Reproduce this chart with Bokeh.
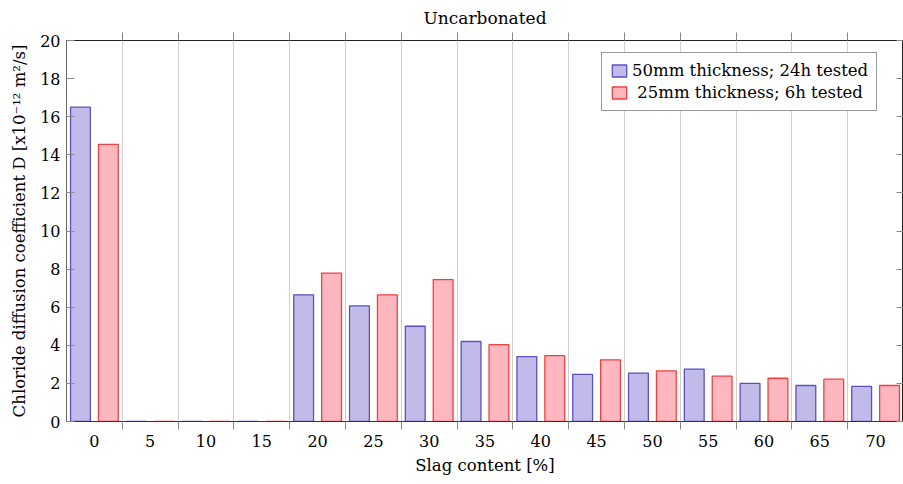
import numpy as np
from bokeh.plotting import figure
from bokeh.models import FixedTicker, LinearAxis, Range1d, Legend, LegendItem
from bokeh.embed import file_html
from bokeh.resources import INLINE

# ---- data ----
slag_content = ["0", "5", "10", "15", "20", "25", "30", "35", "40", "45", "50", "55", "60", "65", "70"]
d_50mm_24h = [16.5, 0.0, 0.0, 0.0, 6.65, 6.07, 5.0, 4.2, 3.41, 2.47, 2.54, 2.75, 2.0, 1.89, 1.84]
d_25mm_6h = [14.55, 0.0, 0.0, 0.0, 7.79, 6.65, 7.45, 4.04, 3.46, 3.24, 2.66, 2.38, 2.27, 2.22, 1.89]
y_ticks = [0, 2, 4, 6, 8, 10, 12, 14, 16, 18, 20]
label_50 = "50mm thickness; 24h tested"
label_25 = " 25mm thickness; 6h tested"

FONT = "DejaVu Serif"
idx = np.arange(len(slag_content))
centers = list(idx.astype(float))
bounds = list(idx[:-1] + 0.5)

p = figure(width=903, height=484, output_backend="svg", toolbar_location=None,
           x_range=Range1d(-0.5, len(slag_content) - 0.5), y_range=Range1d(0, 20),
           min_border_left=66, min_border_right=0, min_border_top=40, min_border_bottom=63,
           title="Uncarbonated")

p.title.align = "center"
p.title.text_font = FONT
p.title.text_font_size = "17px"
p.title.text_font_style = "normal"
p.title.text_color = "black"

blue_fill = "#c2bbea"
blue_line = "#5852c2"
red_fill = "#ffb7bf"
red_line = "#ee4242"

r1 = p.vbar(x=idx - 0.25, top=d_50mm_24h, width=0.355, fill_color=blue_fill, line_color=blue_line, line_width=1.3)
r2 = p.vbar(x=idx + 0.25, top=d_25mm_6h, width=0.355, fill_color=red_fill, line_color=red_line, line_width=1.3)

xticker = FixedTicker(ticks=centers, minor_ticks=bounds)
ax = p.xaxis[0]
ax.ticker = xticker
ax.major_label_overrides = {float(i): s for i, s in enumerate(slag_content)}
ax.major_tick_line_color = None
ax.minor_tick_line_color = "#888888"
ax.minor_tick_in = 0
ax.minor_tick_out = 8
ax.axis_line_color = "#333333"
ax.axis_label = "Slag content [%]"
ax.axis_label_text_font = FONT
ax.axis_label_text_font_size = "16.5px"
ax.axis_label_text_font_style = "normal"
ax.axis_label_text_color = "black"
ax.axis_label_standoff = 6
ax.major_label_text_font = FONT
ax.major_label_text_font_size = "16px"
ax.major_label_text_color = "black"
ax.major_label_standoff = 5

ay = p.yaxis[0]
ay.ticker = FixedTicker(ticks=y_ticks)
ay.minor_tick_line_color = None
ay.major_tick_in = 8
ay.major_tick_out = 0
ay.major_tick_line_color = "#888888"
ay.axis_line_color = "#666666"
ay.axis_label = "Chloride diffusion coefficient D [x10⁻¹² m²/s]"
ay.axis_label_text_font = FONT
ay.axis_label_text_font_size = "16.5px"
ay.axis_label_text_font_style = "normal"
ay.axis_label_text_color = "black"
ay.axis_label_standoff = 8
ay.major_label_text_font = FONT
ay.major_label_text_font_size = "16px"
ay.major_label_text_color = "black"
ay.major_label_standoff = 6

right_ax = LinearAxis(ticker=FixedTicker(ticks=[], minor_ticks=y_ticks),
                      major_tick_line_color=None, minor_tick_in=7, minor_tick_out=0,
                      minor_tick_line_color="#888888", axis_line_color="#333333")
p.add_layout(right_ax, "right")

top_ax = LinearAxis(ticker=FixedTicker(ticks=[], minor_ticks=bounds),
                    major_tick_line_color=None, minor_tick_line_color="#888888",
                    minor_tick_in=0, minor_tick_out=8, axis_line_color="#222222")
p.add_layout(top_ax, "above")

p.xgrid.ticker = xticker
p.xgrid.grid_line_color = None
p.xgrid.minor_grid_line_color = "#cfcfcf"
p.xgrid.minor_grid_line_width = 1
p.ygrid.grid_line_color = None
p.outline_line_color = "#222222"

legend = Legend(items=[LegendItem(label=label_50, renderers=[r1]),
                       LegendItem(label=label_25, renderers=[r2])],
                location=(535, 310))
legend.label_text_font = FONT
legend.label_text_font_size = "16.5px"
legend.label_text_color = "black"
legend.glyph_width = 18
legend.glyph_height = 15
legend.label_standoff = 4
legend.spacing = 3
legend.padding = 8
legend.margin = 0
legend.border_line_color = "#333333"
legend.border_line_width = 1
legend.background_fill_alpha = 1.0
p.add_layout(legend, "center")

open("out.html", "w").write(file_html(p, INLINE))
